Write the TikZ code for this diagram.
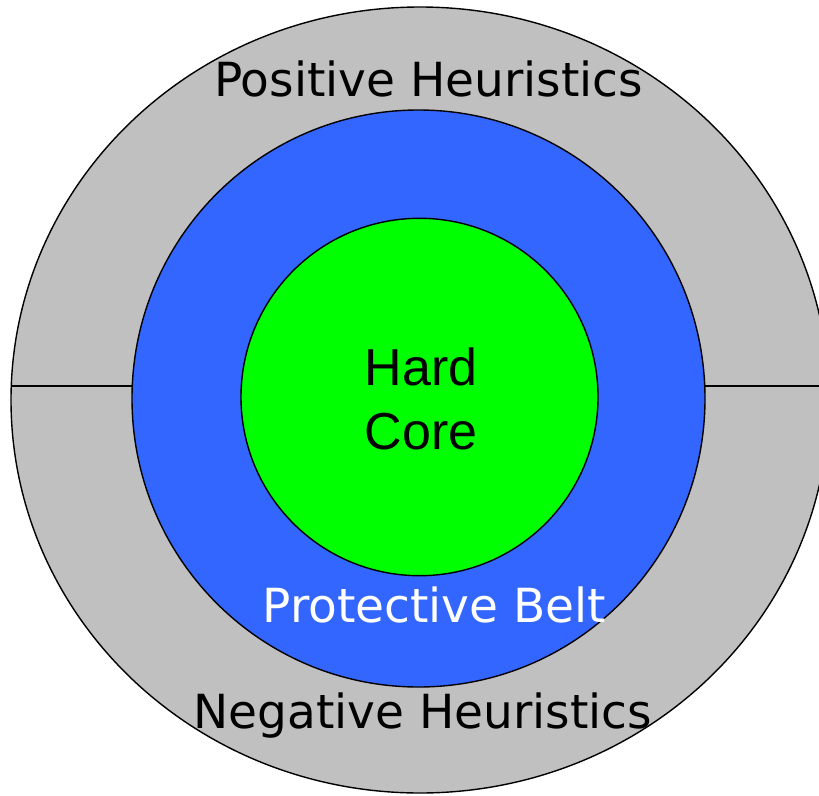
\documentclass[tikz,border=0pt]{standalone}
\usepackage{fontspec}
\setmainfont{DejaVu Sans}
\newfontfamily\corefont{Liberation Sans}
\usetikzlibrary{positioning}

\begin{document}
\begin{tikzpicture}[x=1pt, y=-1pt, line width=1.4pt]
  % colours
  \definecolor{ringgray}{RGB}{192,192,192}
  \definecolor{beltblue}{RGB}{51,102,255}
  \definecolor{coregreen}{RGB}{0,255,0}
  \tikzset{
    ring/.style={draw=black},
    lbl/.style={anchor=base, inner sep=0pt, font=\fontsize{47}{56}\selectfont},
  }
  \useasboundingbox (0,0) rectangle (819,795);

  % outer ring (heuristics)
  \filldraw[ring, fill=ringgray] (420,400) ellipse [x radius=409, y radius=393];

  % dividing line
  \coordinate (divL) at (11.3,386);
  \coordinate (divR) at (828.7,386);
  \draw (divL) -- (divR);

  % protective belt and hard core
  \filldraw[ring, fill=beltblue] (418.5,398.5) ellipse [x radius=286.5, y radius=288.5];
  \filldraw[ring, fill=coregreen] (419.5,397) ellipse [x radius=178.5, y radius=178.7];

  % labels
  \node[lbl] (pos) at (428.5,96) {Positive Heuristics};
  \node[lbl] (neg) at (423,728) {Negative Heuristics};
  \node[lbl, text=white] (belt) at (434.5,622) {Protective Belt};
  \node[anchor=base, inner sep=0pt, align=center,
        font=\corefont\fontsize{52}{64}\selectfont] (core) at (421,449) {Hard\\Core};
\end{tikzpicture}
\end{document}
